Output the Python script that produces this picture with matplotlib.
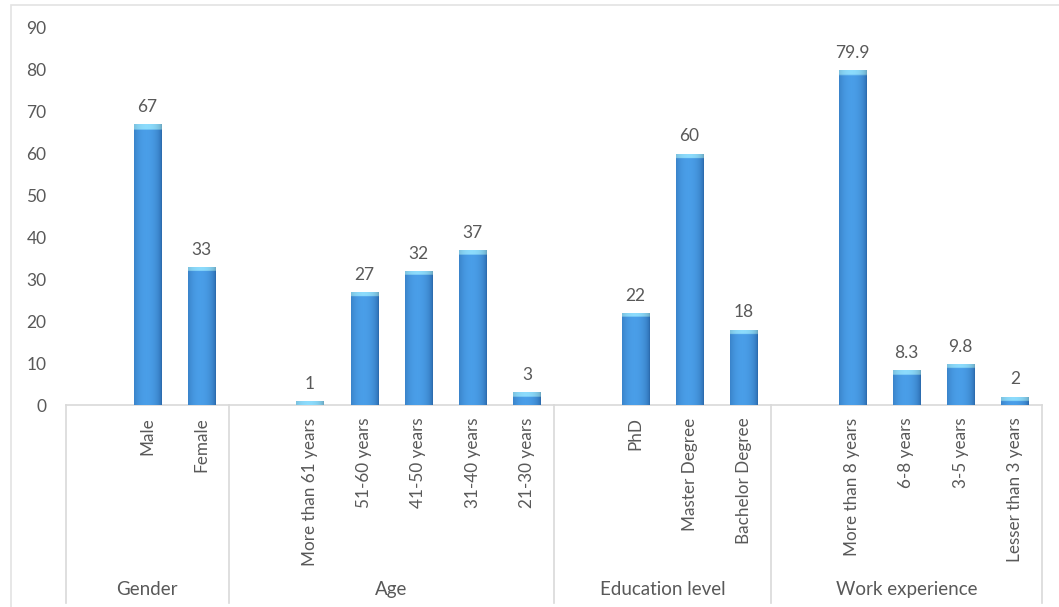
import numpy as np
import matplotlib
matplotlib.use('Agg')
import matplotlib.pyplot as plt
from matplotlib.transforms import blended_transform_factory
from matplotlib.patches import Rectangle

# data: each group starts with an empty slot, like the original Excel chart
groups = ['Gender', 'Age', 'Education level', 'Work experience']
gender_labels = ['', 'Male', 'Female']
gender_vals = [0, 67, 33]
age_labels = ['', 'More than 61 years', '51-60 years', '41-50 years', '31-40 years', '21-30 years']
age_vals = [0, 1, 27, 32, 37, 3]
edu_labels = ['', 'PhD', 'Master Degree', 'Bachelor Degree']
edu_vals = [0, 22, 60, 18]
work_labels = ['', 'More than 8 years', '6-8 years', '3-5 years', 'Lesser than 3 years']
work_vals = [0, 79.9, 8.3, 9.8, 2]

all_labels = gender_labels + age_labels + edu_labels + work_labels
all_vals = gender_vals + age_vals + edu_vals + work_vals
group_sizes = [len(gender_labels), len(age_labels), len(edu_labels), len(work_labels)]

plt.rcParams['font.family'] = ['Lato', 'DejaVu Sans']
txt = '#595959'
line_c = '#d9d9d9'

fig = plt.figure(figsize=(10.59, 6.07), dpi=100)
fig.patches.append(Rectangle((11 / 1059, -0.01), 1.1, 1 - 5 / 607 + 0.01, transform=fig.transFigure,
                             fill=False, edgecolor='#e3e3e3', linewidth=1.2))
ax = fig.add_axes([66 / 1059, 1 - 405 / 607, (1042 - 66) / 1059, (405 - 28) / 607])

x = np.arange(len(all_vals))
bars = ax.bar(x, all_vals, width=0.5, color='#3f87cc', zorder=2)

# cylinder-like gradient with a light cap on top
nx = 60
u = np.linspace(0, 1, nx)
prof = np.clip(1 - ((u - 0.45) / 0.55) ** 2, 0, 1) ** 0.6
dark = np.array([0.16, 0.40, 0.66])
light = np.array([0.29, 0.62, 0.91])
cap_c = np.array([0.55, 0.86, 0.99])
cap_h = 1.1
for rect, v in zip(bars, all_vals):
    if v <= 0:
        continue
    ny = 200
    yy = np.linspace(0, v, ny)[:, None]
    img = dark + (light - dark) * prof[None, :, None]
    img = np.repeat(img, ny, axis=0)
    cap = (yy >= v - cap_h)[:, :, None]
    capimg = cap_c * (0.75 + 0.25 * prof[None, :, None])
    img = np.where(cap, capimg, img)
    x0 = rect.get_x()
    im = ax.imshow(img, extent=(x0, x0 + rect.get_width(), 0, v), origin='lower',
                   aspect='auto', zorder=3, interpolation='bilinear')
    im.set_clip_path(rect)
    ax.text(x0 + rect.get_width() / 2, v + 2.2, f'{v:g}', ha='center', va='bottom',
            fontsize=12.5, color=txt)

ax.set_xlim(-0.5, len(all_vals) - 0.5)
ax.set_ylim(0, 90)
ax.set_yticks(range(0, 91, 10))
ax.set_xticks(x)
ax.set_xticklabels(all_labels, rotation=90, va='top', ha='center')
ax.tick_params(axis='y', length=0, pad=14, labelsize=12.5, labelcolor=txt)
ax.tick_params(axis='x', length=0, pad=9, labelsize=12.3, labelcolor=txt)
for s in ['top', 'right', 'left']:
    ax.spines[s].set_visible(False)
ax.spines['bottom'].set_color(line_c)
ax.spines['bottom'].set_linewidth(1.2)

# group boundaries and group names below the axis
trans = blended_transform_factory(ax.transData, ax.transAxes)
edges = np.concatenate([[0], np.cumsum(group_sizes)]) - 0.5
for e in edges:
    ax.plot([e, e], [0, -0.524], transform=trans, color=line_c, lw=1.2, clip_on=False)
for g, a, b in zip(groups, edges[:-1], edges[1:]):
    ax.text((a + b) / 2, -0.49, g, transform=trans, ha='center', va='center',
            fontsize=13.5, color=txt)

fig.savefig('out.png', dpi=100)
